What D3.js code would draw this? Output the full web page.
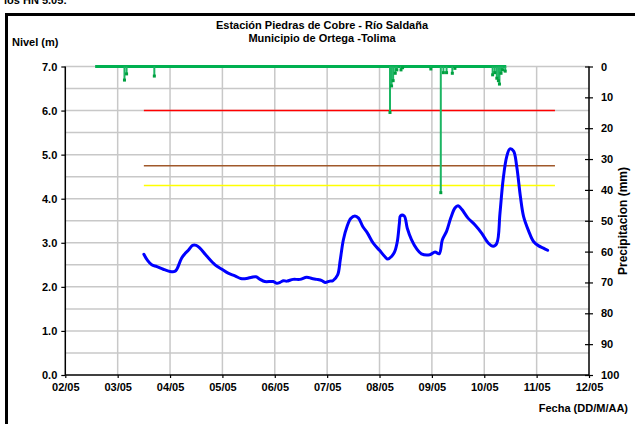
<!DOCTYPE html>
<html><head><meta charset="utf-8">
<script src="https://cdn.jsdelivr.net/npm/d3@7"></script>
<style>
html,body{margin:0;padding:0;background:#fff;}
svg{display:block;font-family:Arial,"Liberation Sans",sans-serif;}
</style></head>
<body><svg id="c" width="635" height="424"></svg>
<script>
// ---- data ----
const titleLines = ["Estación Piedras de Cobre  - Río Saldaña", "Municipio de Ortega -Tolima"];
const xTickDays = [2,3,4,5,6,7,8,9,10,11,12];
const xTickLabels = ["02/05","03/05","04/05","05/05","06/05","07/05","08/05","09/05","10/05","11/05","12/05"];
const levelTicks = [0,1,2,3,4,5,6,7];
const rainTicks = [0,10,20,30,40,50,60,70,80,90,100];

const levelDays = [3.50,3.57,3.65,3.75,3.87,4.00,4.09,4.13,4.22,4.29,4.35,4.43,4.50,4.57,4.70,4.86,4.99,5.11,5.24,5.35,5.46,5.56,5.64,5.72,5.81,5.97,6.04,6.10,6.16,6.23,6.35,6.48,6.61,6.71,6.80,6.90,6.96,7.05,7.11,7.20,7.25,7.31,7.38,7.45,7.53,7.60,7.68,7.77,7.88,8.00,8.10,8.16,8.23,8.29,8.34,8.38,8.40,8.47,8.53,8.61,8.71,8.80,8.96,9.06,9.14,9.20,9.28,9.36,9.44,9.50,9.57,9.69,9.82,9.95,10.08,10.17,10.24,10.30,10.36,10.43,10.49,10.56,10.62,10.69,10.75,10.85,10.94,11.04,11.13,11.21];
const levelValues = [2.74,2.60,2.50,2.46,2.40,2.35,2.35,2.40,2.65,2.76,2.83,2.94,2.94,2.88,2.70,2.50,2.40,2.31,2.25,2.19,2.19,2.22,2.23,2.17,2.12,2.12,2.08,2.10,2.14,2.13,2.17,2.17,2.22,2.19,2.17,2.14,2.10,2.13,2.14,2.27,2.61,3.07,3.37,3.55,3.61,3.56,3.37,3.22,2.99,2.83,2.69,2.63,2.69,2.80,3.03,3.45,3.61,3.61,3.33,3.07,2.86,2.75,2.73,2.79,2.75,3.07,3.26,3.56,3.79,3.84,3.76,3.56,3.41,3.22,2.99,2.92,2.99,3.67,4.43,4.96,5.13,5.08,4.73,4.05,3.60,3.26,3.03,2.93,2.88,2.83];

const rainStartDay = 2.57, rainEndDay = 10.42;
const rainDays = [3.13,3.17,3.70,8.20,8.23,8.26,8.30,8.33,8.41,8.44,8.98,9.17,9.22,9.28,9.39,9.44,10.16,10.20,10.24,10.27,10.29,10.32,10.35,10.40];
const rainMm   = [4.4,2.4,3.1,14.9,6.3,4.6,2.2,1.1,1.1,0.4,0.8,40.9,2.0,2.0,2.2,0.6,2.7,2.0,3.8,4.6,5.7,2.2,1.1,1.5];

const thresholdLevels = [6.0, 4.75, 4.3];
const thresholdColors = ["#ff0000", "#a0582a", "#ffff00"];
const thresholdFrom = 3.50, thresholdTo = 11.35;

// ---- layout ----
const svg = d3.select("#c");
const L = 65.3, R = 589, T = 66.5, B = 375;
const x = d3.scaleLinear().domain([2,12]).range([L,R]);
const y = d3.scaleLinear().domain([0,7]).range([B,T]);
const y2 = d3.scaleLinear().domain([0,100]).range([T,B]);

// frame
svg.append("path").attr("d","M6.5,440 V14.5 H650").attr("fill","none").attr("stroke","#000").attr("stroke-width",3);
// cut-off text above frame (only lower part visible in reference)
svg.append("text").attr("x",4).attr("y",4).attr("font-size",11).attr("font-weight","bold").text("los HN 5.05:");

// grid
const gridH = d3.range(0.5,7.01,0.5);
svg.append("g").selectAll("line").data(gridH).join("line")
  .attr("x1",L).attr("x2",R).attr("y1",d=>y(d)).attr("y2",d=>y(d))
  .attr("stroke","#c8c8c8").attr("stroke-width",1.5);
svg.append("g").selectAll("line").data(xTickDays.slice(1,-1)).join("line")
  .attr("x1",d=>x(d)).attr("x2",d=>x(d)).attr("y1",T).attr("y2",B)
  .attr("stroke","#c8c8c8").attr("stroke-width",1.5);

// axes
const fmt = d3.format(".1f");
const gL = svg.append("g").attr("transform",`translate(${L},0)`)
  .call(d3.axisLeft(y).tickValues(levelTicks).tickFormat(fmt).tickSize(4).tickPadding(4));
const gR = svg.append("g").attr("transform",`translate(${R},0)`)
  .call(d3.axisRight(y2).tickValues(rainTicks).tickSize(4).tickPadding(8));
gR.selectAll(".tick line").attr("x1",-4).attr("x2",4);
const gB = svg.append("g").attr("transform",`translate(0,${B})`)
  .call(d3.axisBottom(x).tickValues(xTickDays).tickFormat((d,i)=>xTickLabels[i]).tickSize(3).tickPadding(5));
[gL,gR,gB].forEach(g=>{
  g.select(".domain").attr("stroke","#000").attr("stroke-width",1.5);
  g.selectAll(".tick line").attr("stroke","#000").attr("stroke-width",1.2);
  g.selectAll("text").attr("font-size",11).attr("font-weight","bold").attr("fill","#000")
    .attr("font-family","Arial,'Liberation Sans',sans-serif");
});
gL.select(".domain").attr("d",`M0,${T}V${B}`);
gR.select(".domain").attr("d",`M0,${T}V${B}`);
gB.select(".domain").attr("d",`M${L},0H${R}`);

// threshold lines
svg.append("g").selectAll("line").data(thresholdLevels).join("line")
  .attr("x1",x(thresholdFrom)).attr("x2",x(thresholdTo))
  .attr("y1",d=>y(d)).attr("y2",d=>y(d))
  .attr("stroke",(d,i)=>thresholdColors[i]).attr("stroke-width",1.5);

// precipitation
const rg = svg.append("g");
rg.append("line").attr("x1",x(rainStartDay)).attr("x2",x(rainEndDay))
  .attr("y1",y2(0)).attr("y2",y2(0)).attr("stroke","#00b050").attr("stroke-width",3);
rg.selectAll("line.sp").data(rainDays).join("line").attr("class","sp")
  .attr("x1",d=>x(d)).attr("x2",d=>x(d)).attr("y1",y2(0)).attr("y2",(d,i)=>y2(rainMm[i]))
  .attr("stroke","#1cb563").attr("stroke-width",2);
rg.selectAll("rect").data(rainDays).join("rect")
  .attr("x",d=>x(d)-1.5).attr("y",(d,i)=>y2(rainMm[i])-1.5).attr("width",3).attr("height",3)
  .attr("fill","#00a040");

// level line
const pts = levelDays.map((d,i)=>[d,levelValues[i]]);
svg.append("path").datum(pts)
  .attr("d",d3.line().x(d=>x(d[0])).y(d=>y(d[1])).curve(d3.curveCatmullRom.alpha(0.5)))
  .attr("fill","none").attr("stroke","#0000ff").attr("stroke-width",3).attr("stroke-linejoin","round").attr("stroke-linecap","round");

// texts
const tf = "Arial,'Liberation Sans',sans-serif";
svg.append("text").attr("x",322).attr("y",29).attr("text-anchor","middle").attr("font-size",11).attr("font-weight","bold").attr("font-family",tf).text(titleLines[0]);
svg.append("text").attr("x",322).attr("y",42).attr("text-anchor","middle").attr("font-size",11).attr("font-weight","bold").attr("font-family",tf).text(titleLines[1]);
svg.append("text").attr("x",12).attr("y",46).attr("font-size",11).attr("font-weight","bold").attr("font-family",tf).text("Nivel (m)");
svg.append("text").attr("x",628).attr("y",412).attr("text-anchor","end").attr("font-size",11).attr("font-weight","bold").attr("font-family",tf).text("Fecha (DD/M/AA)");
svg.append("text").attr("transform","translate(627,221) rotate(-90)").attr("text-anchor","middle").attr("font-size",12).attr("font-weight","bold").attr("font-family",tf).text("Precipitacion (mm)");
</script></body></html>
